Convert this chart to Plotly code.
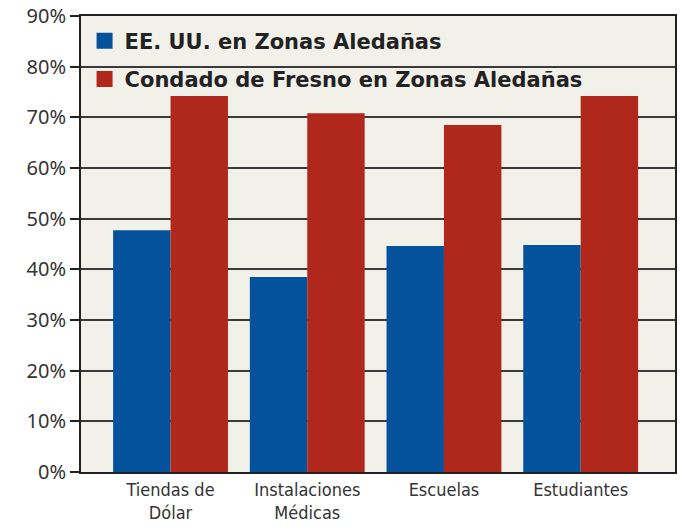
import plotly.graph_objects as go

categories = ["Tiendas de<br>Dólar", "Instalaciones<br>Médicas", "Escuelas", "Estudiantes"]
us_values = [47.7, 38.5, 44.6, 44.8]
fresno_values = [74.2, 70.8, 68.5, 74.2]
series_names = ["EE. UU. en Zonas Aledañas", "Condado de Fresno en Zonas Aledañas"]
y_ticks = [0, 10, 20, 30, 40, 50, 60, 70, 80, 90]
y_labels = [f"{v}%" for v in y_ticks]

BLUE = "#03529b"
RED = "#b0281c"

fig = go.Figure()
fig.add_trace(go.Bar(x=categories, y=us_values, marker_color=BLUE, marker_line_width=0,
                     showlegend=False))
fig.add_trace(go.Bar(x=categories, y=fresno_values, marker_color=RED, marker_line_width=0,
                     showlegend=False))

# legend entries with bigger square swatches
for name, col, grp in [(series_names[0], BLUE, "a"), (series_names[1], RED, "b")]:
    fig.add_trace(go.Scatter(x=[None], y=[None], mode="markers", name=name, legendgroup=grp,
                             marker=dict(symbol="square", size=16, color=col)))

fig.update_layout(
    width=682, height=531,
    margin=dict(l=81, r=7, t=16, b=59),
    paper_bgcolor="white",
    plot_bgcolor="#f1f0e9",
    barmode="group",
    bargap=0.16,
    bargroupgap=0,
    font=dict(family="Noto Sans", color="#2a2a2a"),
    legend=dict(x=0.006, y=0.99, xanchor="left", yanchor="top",
                bgcolor="rgba(0,0,0,0)", traceorder="grouped", tracegroupgap=8,
                font=dict(size=21, family="DejaVu Sans", weight=600, color="#222")),
)

fig.update_xaxes(
    type="category",
    range=[-0.655, 3.69],
    showline=True, linecolor="#222", linewidth=2, mirror=True,
    ticks="", showgrid=False, automargin=False,
    tickfont=dict(family="DejaVu Sans Condensed", size=18, color="#333"),
)
fig.update_yaxes(
    range=[0, 90],
    tickvals=y_ticks,
    ticktext=y_labels,
    showline=True, linecolor="#222", linewidth=2, mirror=True,
    ticks="outside", ticklen=9, tickcolor="#222", tickwidth=2,
    showgrid=True, gridcolor="#3a3a3a", gridwidth=1.5,
    zeroline=False, automargin=False,
    tickfont=dict(family="Noto Sans", size=20, color="#333"),
)

fig.write_html("out.html", config={"displayModeBar": False},
               post_script="document.body.style.margin='0';")
